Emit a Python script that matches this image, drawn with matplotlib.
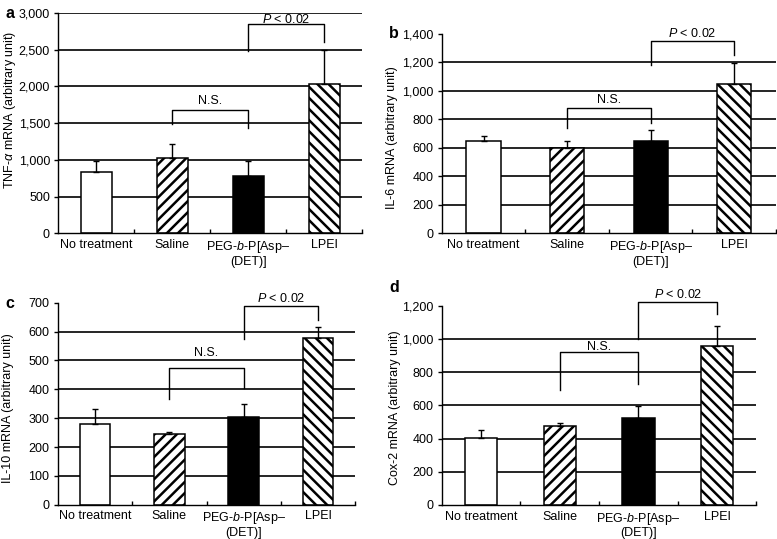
import matplotlib
matplotlib.use("Agg")
import matplotlib.pyplot as plt
import numpy as np

plt.rcParams['font.family'] = ['Liberation Sans', 'DejaVu Sans']
plt.rcParams['mathtext.fontset'] = 'custom'
plt.rcParams['mathtext.rm'] = 'Liberation Sans'
plt.rcParams['mathtext.it'] = 'Liberation Sans:italic'
plt.rcParams['hatch.linewidth'] = 1.8

# groups on the x axis
categories = ["No treatment", "Saline", "PEG-$\\it{b}$-P[Asp–\n(DET)]", "LPEI"]
fills = ['white', 'white', 'black', 'white']
hatches = ['', '///', '', '\\\\\\']

# mRNA levels (arbitrary unit), mean and upper error
tnf_mean = [832, 1027, 786, 2036]
tnf_err = [158, 187, 204, 464]
il6_mean = [649, 597, 651, 1050]
il6_err = [37, 52, 72, 145]
il10_mean = [278, 245, 304, 576]
il10_err = [53, 7, 45, 41]
cox2_mean = [401, 476, 526, 955]
cox2_err = [51, 20, 72, 123]

tnf_ticks = [0, 500, 1000, 1500, 2000, 2500, 3000]
il6_ticks = [0, 200, 400, 600, 800, 1000, 1200, 1400]
il10_ticks = [0, 100, 200, 300, 400, 500, 600, 700]
cox2_ticks = [0, 200, 400, 600, 800, 1000, 1200]

# brackets: (top, left leg end, right leg end, label y)
tnf_ns = (1673, 1490, 1432, 1795)
tnf_p = (2845, 2486, 2605, 2918)
il6_ns = (880, 737, 777, 938)
il6_p = (1353, 1185, 1253, 1400)
il10_ns = (475, 365, 406, 524)
il10_p = (689, 575, 640, 713)
cox2_ns = (923, 692, 728, 953)
cox2_p = (1224, 1000, 1150, 1265)


def draw_panel(ax, means, errs, ticks, nlines, ylabel, ns, p, label_xy):
    x = np.arange(len(means)) + 0.5
    for v in ticks[1:nlines + 1]:
        ax.axhline(v, color='black', lw=1.2, zorder=1)
    ax.bar(x, means, width=0.41, color=fills, edgecolor='black', hatch=hatches,
           linewidth=1.1, zorder=2)
    ax.errorbar(x, means, yerr=[np.zeros(len(errs)), errs], fmt='none',
                ecolor='black', elinewidth=1, capsize=2, capthick=1, zorder=3)

    # N.S. bracket (saline vs PEG-b-P[Asp(DET)]) and P bracket (PEG vs LPEI)
    ax.plot([1.5, 1.5, 2.5, 2.5], [ns[1], ns[0], ns[0], ns[2]], color='black', lw=1,
            clip_on=False, zorder=4)
    ax.text(2.0, ns[3], "N.S.", ha='center', va='center', fontsize=9)
    ax.plot([2.5, 2.5, 3.5, 3.5], [p[1], p[0], p[0], p[2]], color='black', lw=1,
            clip_on=False, zorder=4)
    ax.text(3.0, p[3], "$P$ < 0.02", ha='center', va='center', fontsize=9,
            clip_on=False)

    ax.set_xlim(0, 4)
    ax.set_ylim(0, ticks[-1])
    ax.set_xticks(x)
    ax.set_xticklabels(categories, fontsize=9, linespacing=1.1)
    ax.set_xticks([1, 2, 3, 4], minor=True)
    ax.tick_params(axis='x', which='major', length=0, pad=4)
    ax.tick_params(axis='x', which='minor', direction='in', length=3, width=1)
    ax.set_yticks(ticks)
    ax.set_yticklabels(["{:,}".format(t) for t in ticks], fontsize=9)
    ax.tick_params(axis='y', length=3, width=1, pad=3)
    ax.spines['top'].set_visible(False)
    ax.spines['right'].set_visible(False)
    ax.spines['left'].set_linewidth(1)
    ax.spines['bottom'].set_linewidth(1)
    ax.set_ylabel(ylabel, fontsize=9)
    ax.yaxis.set_label_coords(*label_xy)


fig = plt.figure(figsize=(7.77, 5.39), dpi=100)
ax_a = fig.add_axes([0.0750, 0.5672, 0.3913, 0.4087])
ax_b = fig.add_axes([0.5685, 0.5672, 0.4302, 0.3698])
ax_c = fig.add_axes([0.0743, 0.0636, 0.3830, 0.3748])
ax_d = fig.add_axes([0.5685, 0.0631, 0.4051, 0.3698])

draw_panel(ax_a, tnf_mean, tnf_err, tnf_ticks, 6, "TNF-$\\alpha$ mRNA (arbitrary unit)",
           tnf_ns, tnf_p, (-0.134, 0.56))
draw_panel(ax_b, il6_mean, il6_err, il6_ticks, 6, "IL-6 mRNA (arbitrary unit)",
           il6_ns, il6_p, (-0.132, 0.48))
draw_panel(ax_c, il10_mean, il10_err, il10_ticks, 6, "IL-10 mRNA (arbitrary unit)",
           il10_ns, il10_p, (-0.146, 0.48))
draw_panel(ax_d, cox2_mean, cox2_err, cox2_ticks, 5, "Cox-2 mRNA (arbitrary unit)",
           cox2_ns, cox2_p, (-0.130, 0.49))

# panel letters
fig.text(5 / 777, 1 - 13 / 539, "a", fontsize=11.5, fontweight='bold', va='center')
fig.text(389 / 777, 1 - 33 / 539, "b", fontsize=11.5, fontweight='bold', va='center')
fig.text(5 / 777, 1 - 303 / 539, "c", fontsize=11.5, fontweight='bold', va='center')
fig.text(389 / 777, 1 - 287 / 539, "d", fontsize=11.5, fontweight='bold', va='center')

fig.savefig("out.png", dpi=100)
